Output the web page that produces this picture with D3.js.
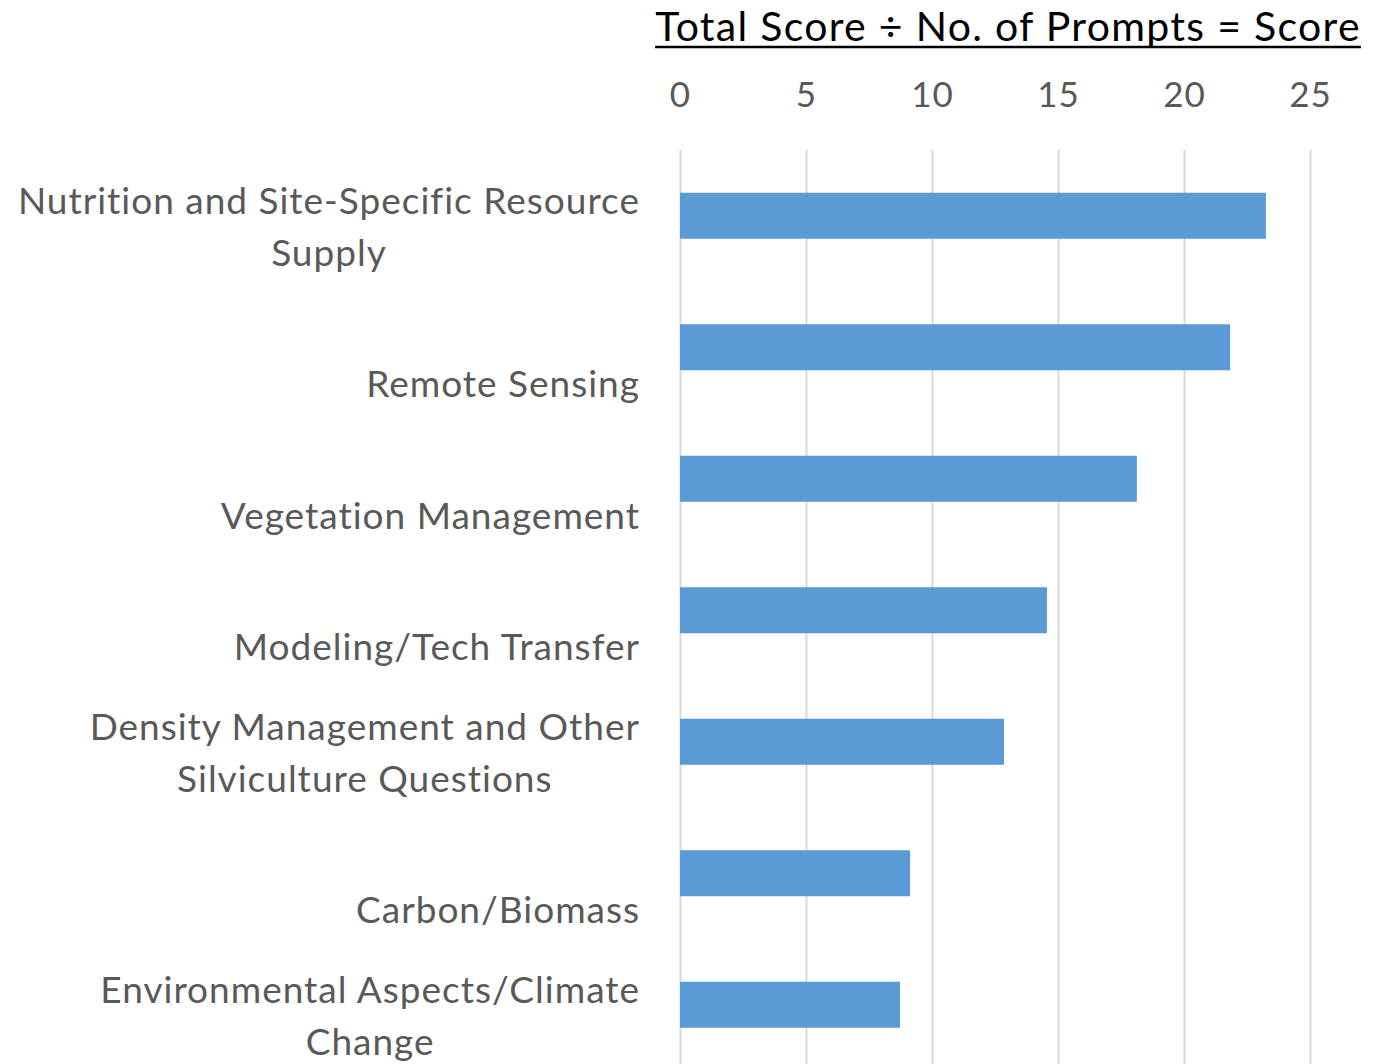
<!DOCTYPE html>
<html>
<head>
<meta charset="utf-8">
<script src="https://cdnjs.cloudflare.com/ajax/libs/d3/7.8.5/d3.min.js"></script>
<style>
  body { margin: 0; background: #fff; }
  svg { display: block; }
  text { font-family: Lato, "Open Sans", sans-serif; }
</style>
</head>
<body>
<svg id="chart"></svg>
<script>
var width = 1393,
    height = 1064;

// category labels (line breaks as in the original wrapped labels)
var categories = [
  "Nutrition and Site-Specific Resource\nSupply",
  "Remote Sensing",
  "Vegetation Management",
  "Modeling/Tech Transfer",
  "Density Management and Other\nSilviculture Questions",
  "Carbon/Biomass",
  "Environmental Aspects/Climate\nChange"
];
var scores = [23.25, 21.83, 18.13, 14.56, 12.86, 9.13, 8.73];
var tickValues = [0, 5, 10, 15, 20, 25];
var title = "Total Score \u00F7 No. of Prompts = Score";

var labelFont = 37,
    tickFont = 35,
    titleFont = 41;

var svg = d3.select("#chart")
  .attr("width", width)
  .attr("height", height);

var x = d3.scaleLinear()
  .domain([0, 25])
  .range([680, 1310]);

var y = d3.scaleBand()
  .domain(categories)
  .range([150, 1070.5])
  .paddingInner(0.65)
  .paddingOuter(0.325);

// gridlines
var grid = svg.append("g")
  .attr("transform", "translate(0,150)")
  .call(d3.axisBottom(x).tickValues(tickValues).tickSize(height - 150).tickFormat(""));
grid.select(".domain").remove();
grid.selectAll("line").attr("stroke", "#d9d9d9").attr("stroke-width", 2);

// tick labels on top
var axis = svg.append("g")
  .attr("transform", "translate(0,107)")
  .call(d3.axisTop(x).tickValues(tickValues).tickSize(0).tickPadding(0));
axis.select(".domain").remove();
axis.selectAll("text")
  .attr("fill", "#595959")
  .style("font-size", tickFont + "px")
  .style("letter-spacing", "1px")
  .style("font-family", "Lato, 'Open Sans', sans-serif");

// bars
svg.append("g").selectAll("rect")
  .data(scores)
  .enter().append("rect")
  .attr("x", x(0))
  .attr("y", function(d, i) { return y(categories[i]); })
  .attr("width", function(d) { return x(d) - x(0); })
  .attr("height", y.bandwidth())
  .attr("fill", "#5b9bd5");

// category labels, wrapped lines centred in a right-aligned block
var labels = svg.append("g").selectAll("g.label")
  .data(categories)
  .enter().append("g")
  .attr("class", "label");

labels.each(function(d) {
  var g = d3.select(this);
  var lines = d.split("\n");
  var last = y(d) + y.bandwidth() / 2 + 50;
  var texts = lines.map(function(line, j) {
    return g.append("text")
      .attr("y", last - (lines.length - 1 - j) * 52)
      .attr("fill", "#595959")
      .style("font-size", labelFont + "px")
      .style("letter-spacing", "1px")
      .attr("text-anchor", "middle")
      .text(line);
  });
  var maxW = d3.max(texts, function(t) { return t.node().getComputedTextLength(); });
  texts.forEach(function(t) { t.attr("x", 640 - maxW / 2); });
});

// title with underline
var t = svg.append("text")
  .attr("x", 1008)
  .attr("y", 41)
  .attr("text-anchor", "middle")
  .attr("fill", "#000")
  .style("font-size", titleFont + "px")
  .style("letter-spacing", "1.3px")
  .text(title);
var tw = t.node().getComputedTextLength();
svg.append("line")
  .attr("x1", 1008 - tw / 2)
  .attr("x2", 1008 + tw / 2)
  .attr("y1", 47)
  .attr("y2", 47)
  .attr("stroke", "#000")
  .attr("stroke-width", 2.5);
</script>
</body>
</html>
